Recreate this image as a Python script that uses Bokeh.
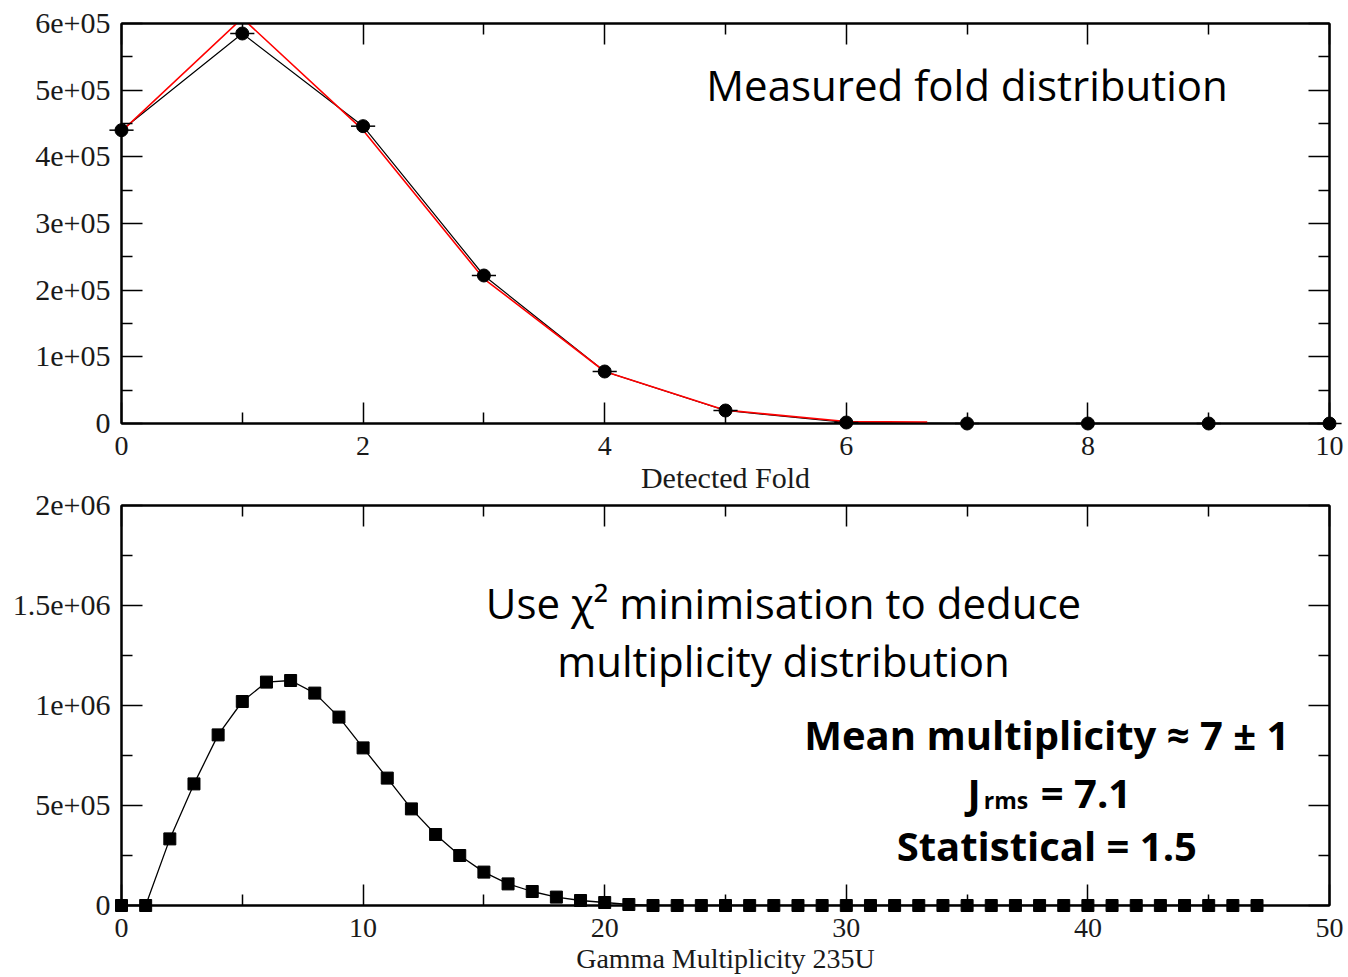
from bokeh.plotting import figure
from bokeh.layouts import column
from bokeh.models import Range1d, FixedTicker, LinearAxis, Label, CustomLabelingPolicy
from bokeh.embed import file_html
from bokeh.resources import INLINE

# --- measured fold distribution (points) and fitted fold (red line) ---
fold = [0, 1, 2, 3, 4, 5, 6, 7, 8, 9, 10]
fold_counts = [4.40e5, 5.85e5, 4.46e5, 2.22e5, 7.8e4, 1.95e4, 1.5e3, 0, 0, 0, 0]
fit_fold = [0, 1, 2, 3, 4, 5, 6, 6.67]
fit_counts = [4.38e5, 6.08e5, 4.40e5, 2.17e5, 7.8e4, 2.0e4, 3.0e3, 2.0e3]

# --- deduced gamma multiplicity distribution ---
mult = list(range(48))
mult_counts = [0, 0, 3.33e5, 6.08e5, 8.53e5, 1.02e6, 1.117e6, 1.125e6, 1.062e6,
               9.42e5, 7.88e5, 6.37e5, 4.83e5, 3.55e5, 2.5e5, 1.67e5, 1.08e5,
               7.0e4, 4.2e4, 2.5e4, 1.5e4, 5e3] + [0] * 26

# --- tick positions and labels ---
fold_ticks = [0, 2, 4, 6, 8, 10]
fold_minor = [1, 3, 5, 7, 9]
fold_y_ticks = [0, 100000, 200000, 300000, 400000, 500000, 600000]
fold_y_labels = ["0", "1e+05", "2e+05", "3e+05", "4e+05", "5e+05", "6e+05"]
fold_y_minor = [50000, 150000, 250000, 350000, 450000, 550000]

mult_ticks = [0, 10, 20, 30, 40, 50]
mult_minor = [5, 15, 25, 35, 45]
mult_y_ticks = [0, 500000, 1000000, 1500000, 2000000]
mult_y_labels = ["0", "5e+05", "1e+06", "1.5e+06", "2e+06"]
mult_y_minor = [250000, 750000, 1250000, 1750000]

TICK_FONT = "Liberation Serif"
SLIDE_FONT = "Open Sans"


def add_axes(p, xticks, xminor, yticks, yminor, ylabels, xlabel, xlabel_size):
    overrides = dict(zip(yticks, ylabels))
    for side in ("below", "above", "left", "right"):
        ax = LinearAxis()
        if side in ("below", "above"):
            ax.ticker = FixedTicker(ticks=xticks, minor_ticks=xminor)
        else:
            ax.ticker = FixedTicker(ticks=yticks, minor_ticks=yminor)
            ax.major_label_overrides = overrides
        ax.axis_line_width = 2
        ax.axis_line_color = "black"
        ax.major_tick_in = 21
        ax.major_tick_out = 0
        ax.minor_tick_in = 11
        ax.minor_tick_out = 0
        ax.major_tick_line_width = 1.5
        ax.minor_tick_line_width = 1.5
        ax.major_tick_line_color = "black"
        ax.minor_tick_line_color = "black"
        ax.major_label_text_font = TICK_FONT
        ax.major_label_text_color = "#1a1a1a"
        if side == "below":
            ax.major_label_text_font_size = "28px"
            ax.major_label_standoff = 13
        elif side == "left":
            ax.major_label_text_font_size = "30px"
            ax.major_label_standoff = 11
        else:
            # mirrored tick marks only, no numbers on the top and right edges
            ax.major_label_text_font_size = "1px"
            ax.major_label_standoff = 0
            ax.major_label_policy = CustomLabelingPolicy(code="return []")
        if side == "below":
            ax.axis_label = xlabel
            ax.axis_label_text_font = TICK_FONT
            ax.axis_label_text_font_style = "normal"
            ax.axis_label_text_font_size = xlabel_size
            ax.axis_label_text_color = "#1a1a1a"
            ax.axis_label_standoff = 3
        p.add_layout(ax, side)


def make_frame(height, top, bottom, x_end, y_end):
    p = figure(width=1348, height=height, frame_width=1208, frame_height=400,
               output_backend="svg", toolbar_location=None,
               x_range=Range1d(0, x_end), y_range=Range1d(0, y_end),
               x_axis_type=None, y_axis_type=None,
               min_border_left=121, min_border_right=19,
               min_border_top=top, min_border_bottom=bottom)
    p.title.visible = False
    p.outline_line_color = "black"
    p.outline_line_width = 2
    p.background_fill_color = "white"
    p.border_fill_color = None
    return p


def slide_text(p, x, y, text, size, bold=False, align="center", dx=0):
    # y is the text baseline in data units; lift by the font's ascent slack
    p.add_layout(Label(x=x, y=y, text=text, text_align=align,
                       text_baseline="alphabetic", x_offset=dx,
                       y_offset=round(0.41 * size),
                       text_font=SLIDE_FONT, text_font_size=f"{size}px",
                       text_font_style="bold" if bold else "normal",
                       text_color="black"))


# ---------------- upper panel ----------------
top = make_frame(500, 23, 77, 10, 6e5)
add_axes(top, fold_ticks, fold_minor, fold_y_ticks, fold_y_minor, fold_y_labels,
         "Detected Fold", "30px")

top.line(fold, fold_counts, line_color="black", line_width=1.2)
top.line(fit_fold, fit_counts, line_color="red", line_width=1.6)
cap_x0 = [f - 0.1 for f in fold]
cap_x1 = [f + 0.1 for f in fold]
top.segment(cap_x0, fold_counts, cap_x1, fold_counts, line_color="black",
            line_width=1.5, level="overlay")
top.scatter(fold, fold_counts, marker="circle", size=13, fill_color="black",
            line_color="black", level="overlay")

slide_text(top, 7.0, 4.83e5, "Measured fold distribution", 42)

# ---------------- lower panel ----------------
# pulled up so its transparent top margin overlaps the upper panel's axis caption
bot = make_frame(497, 25, 72, 50, 2e6)
bot.margin = (-20, 0, 0, 0)
add_axes(bot, mult_ticks, mult_minor, mult_y_ticks, mult_y_minor, mult_y_labels,
         "Gamma Multiplicity 235U", "28px")

bot.line(mult, mult_counts, line_color="black", line_width=1.3)
bot.scatter(mult, mult_counts, marker="square", size=12, fill_color="black",
            line_color="black", level="overlay")

slide_text(bot, 27.4, 1.43e6, "Use \u03c7\u00b2 minimisation to deduce", 42)
slide_text(bot, 27.4, 1.14e6, "multiplicity distribution", 42)

slide_text(bot, 38.3, 7.75e5, "Mean multiplicity \u2248 7 \u00b1 1", 40, bold=True)
slide_text(bot, 38.3, 4.85e5, "J", 40, bold=True, align="right", dx=-66)
slide_text(bot, 38.3, 4.85e5, "rms", 23, bold=True, align="left", dx=-63)
slide_text(bot, 38.3, 4.85e5, "= 7.1", 40, bold=True, align="left", dx=-6)
slide_text(bot, 38.3, 2.2e5, "Statistical = 1.5", 40, bold=True)

layout = column(top, bot, spacing=0)
open("out.html", "w").write(file_html(layout, INLINE))
